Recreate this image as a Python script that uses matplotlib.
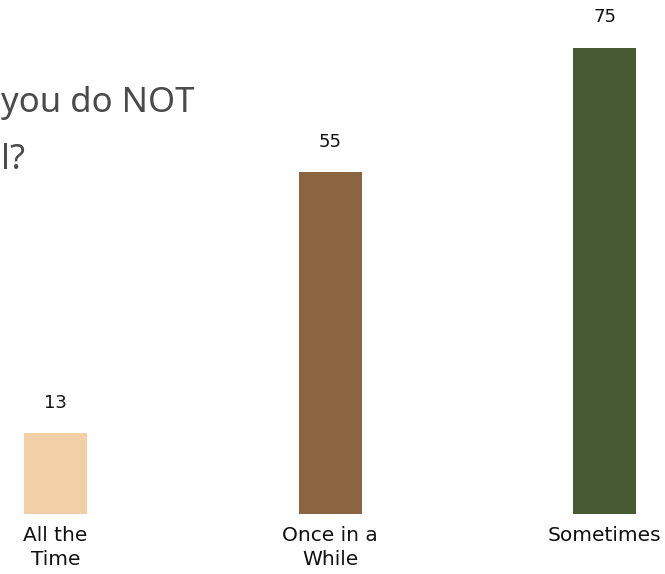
import matplotlib
matplotlib.use('Agg')
import matplotlib.pyplot as plt

# data
categories = ['All the\nTime', 'Once in a\nWhile', 'Sometimes']
values = [13, 55, 75]
colors = ['#F2CFA6', '#8B6542', '#465B31']

fig = plt.figure(figsize=(6.65, 5.74), dpi=100)
ax = fig.add_axes([0, 0, 1, 1])

x = list(range(len(values)))
ax.bar(x, values, width=0.2295, color=colors, zorder=2)

# value labels above bars
for xi, v in zip(x, values):
    ax.text(xi, v + 4.9, str(v), ha='center', va='center', fontsize=13,
            color='#111111', family=['DejaVu Sans'])

# category labels below bars
for xi, c in zip(x, categories):
    ax.text(xi, -1.9, c, ha='center', va='top', fontsize=14.5,
            color='#111111', linespacing=1.35, family=['DejaVu Sans'])

ax.set_xlim(-0.2022, 2.2204)
ax.set_ylim(-9.654, 82.70)
ax.axis('off')

# title (only the visible part of the original's cropped title)
title_font = dict(fontsize=25, color='#4a4a4a', family=['Noto Sans', 'DejaVu Sans'])
fig.text(1 / 665, 1 - 103 / 574, 'you do NOT', ha='left', va='center', **title_font)
fig.text(1 / 665, 1 - 160 / 574, 'l?', ha='left', va='center', **title_font)

fig.savefig('out.png', dpi=100)
